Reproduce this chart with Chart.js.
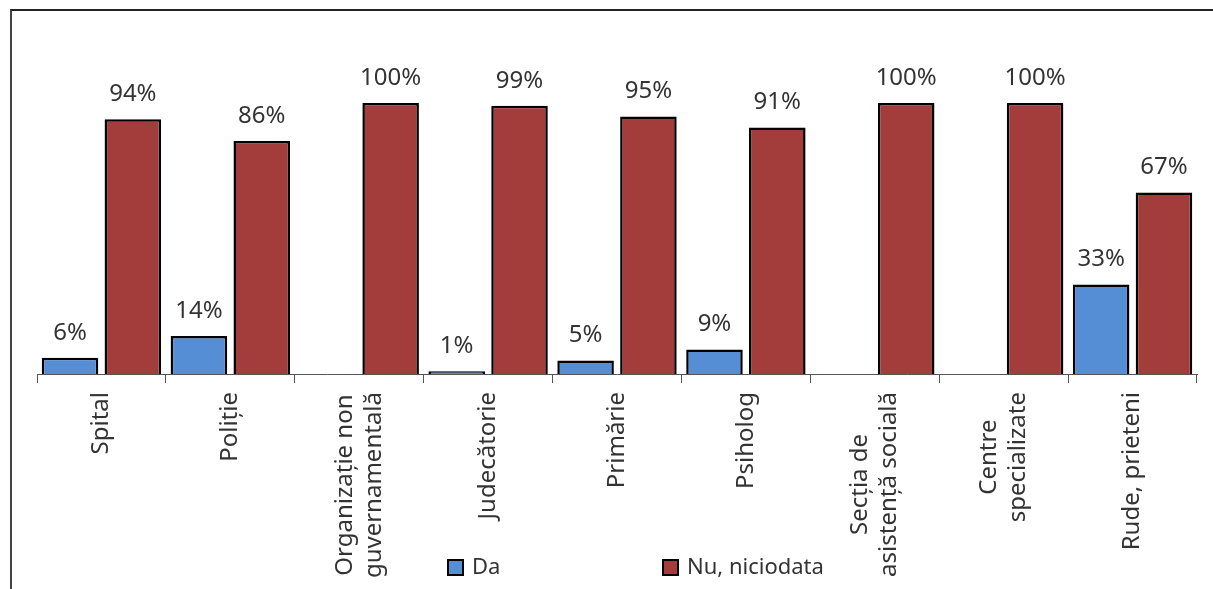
<!DOCTYPE html>
<html>
<head>
<meta charset="utf-8">
<script src="https://cdn.jsdelivr.net/npm/chart.js@4.4.0/dist/chart.umd.min.js"></script>
<style>
  html, body { margin: 0; padding: 0; background: #fff; overflow: hidden; }
  #frame { position: absolute; left: 10px; top: 9px; border-left: 2px solid #444; border-top: 2px solid #222; width: 1300px; height: 700px; }
  #chart { display: block; }
</style>
</head>
<body>
<div id="frame"><canvas id="chart" width="1240" height="620"></canvas></div>
<script>
// categories (multi-line labels)
var categories = [
	["Spital"],
	["Poliție"],
	["Organizație non", "guvernamentală"],
	["Judecătorie"],
	["Primărie"],
	["Psiholog"],
	["Secția de", "asistență socială"],
	["Centre", "specializate"],
	["Rude, prieteni"]
];
var seriesNames = ["Da", "Nu, niciodata"];
var daValues = [6, 14, 0, 1, 5, 9, 0, 0, 33];
var nuValues = [94, 86, 100, 99, 95, 91, 100, 100, 67];

var blue = '#558ED5';
var red = '#A33D3B';
var fontFamily = '"Noto Sans", "DejaVu Sans", sans-serif';

// value labels above bars
var valueLabels = {
	id: 'valueLabels',
	afterDatasetsDraw: function(chart) {
		var ctx = chart.ctx;
		ctx.save();
		ctx.font = '24px ' + fontFamily;
		ctx.fillStyle = '#333';
		ctx.textAlign = 'center';
		ctx.textBaseline = 'middle';
		chart.data.datasets.forEach(function(ds, di) {
			var meta = chart.getDatasetMeta(di);
			meta.data.forEach(function(bar, i) {
				if (ds.data[i] > 0) {
					ctx.fillText(ds.data[i] + '%', bar.x, bar.y - 25);
				}
			});
		});
		ctx.restore();
	}
};

// rotated category labels, lines centred like the original
var xLabels = {
	id: 'xLabels',
	afterDraw: function(chart) {
		var ctx = chart.ctx;
		var scale = chart.scales.x;
		var top = chart.chartArea.bottom + 18;
		var lh = 29;
		ctx.save();
		ctx.font = '24px ' + fontFamily;
		ctx.fillStyle = '#333';
		ctx.textAlign = 'center';
		ctx.textBaseline = 'middle';
		categories.forEach(function(lines, i) {
			var x = scale.getPixelForTick(i);
			var w = 0;
			lines.forEach(function(l) { w = Math.max(w, ctx.measureText(l).width); });
			ctx.save();
			ctx.translate(x, top);
			ctx.rotate(-Math.PI / 2);
			lines.forEach(function(l, k) {
				ctx.fillText(l, -w / 2, (k - (lines.length - 1) / 2) * lh);
			});
			ctx.restore();
		});
		ctx.restore();
	}
};

// legend drawn over the label area, as in the original
var bottomLegend = {
	id: 'bottomLegend',
	afterDraw: function(chart) {
		var ctx = chart.ctx;
		var left = chart.chartArea.left;
		var y = chart.chartArea.bottom + 186;
		var offsets = [411, 626];
		ctx.save();
		ctx.font = '22px ' + fontFamily;
		ctx.textBaseline = 'middle';
		ctx.textAlign = 'left';
		chart.data.datasets.forEach(function(ds, i) {
			var bx = left + offsets[i];
			ctx.fillStyle = ds.backgroundColor;
			ctx.fillRect(bx, y, 15, 15);
			ctx.lineWidth = 2;
			ctx.strokeStyle = '#000';
			ctx.strokeRect(bx, y, 15, 15);
			ctx.fillStyle = '#333';
			ctx.fillText(ds.label, bx + 24, y + 8);
		});
		ctx.restore();
	}
};

var el = document.getElementById('chart');
var myChart = new Chart(el, {
	type: 'bar',
	data: {
		labels: categories,
		datasets: [{
			label: seriesNames[0],
			data: daValues,
			backgroundColor: blue,
			borderColor: '#000',
			borderWidth: 2.5,
			borderSkipped: 'bottom',
			categoryPercentage: 0.975,
			barPercentage: 0.9
		}, {
			label: seriesNames[1],
			data: nuValues,
			backgroundColor: red,
			borderColor: '#000',
			borderWidth: 2.5,
			borderSkipped: 'bottom',
			categoryPercentage: 0.975,
			barPercentage: 0.9
		}]
	},
	options: {
		responsive: false,
		animation: false,
		layout: { padding: { left: 25, right: 55, top: 92, bottom: 248 } },
		plugins: {
			legend: { display: false },
			tooltip: { enabled: false }
		},
		scales: {
			x: {
				ticks: { display: false },
				grid: { display: true, drawOnChartArea: false, drawTicks: true, tickLength: 9, color: '#555', offset: true },
				border: { display: true, color: '#555', width: 1 }
			},
			y: {
				display: false,
				min: 0,
				max: 100
			}
		}
	},
	plugins: [valueLabels, xLabels, bottomLegend]
});
</script>
</body>
</html>
